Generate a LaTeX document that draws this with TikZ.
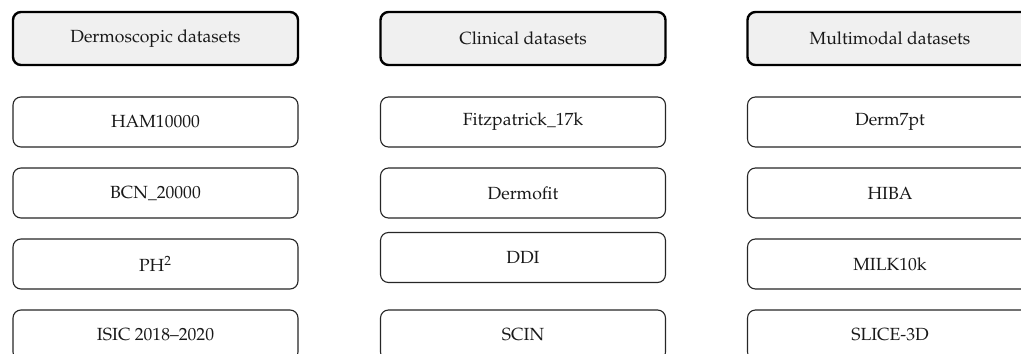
\documentclass[tikz,border=0pt]{standalone}
\usepackage[T1]{fontenc}
\usepackage{mathpazo}
\begin{document}
\begin{tikzpicture}[x=0.5pt,y=-0.5pt,
  every node/.style={font=\fontsize{8.8}{10}\selectfont, text=black!90, inner sep=0pt},
  catbox/.style={draw=black, line width=1.2pt, fill=black!6, rounded corners=4pt,
    minimum width=142.5pt, minimum height=26.5pt},
  itembox/.style={draw=black!85, line width=0.55pt, fill=white, rounded corners=4pt,
    minimum width=142.5pt, minimum height=25pt}]
  \clip (0,0) rectangle (1021,353);
  \useasboundingbox (0,0) rectangle (1021,353);

  % category headers
  \node[catbox] (h1) at (155.5,38.5) {Dermoscopic datasets};
  \node[catbox] (h2) at (523,38.5) {Clinical datasets};
  \node[catbox] (h3) at (890,38.5) {Multimodal datasets};

  % dermoscopic
  \node[itembox] (d1) at (155.5,122) {HAM10000};
  \node[itembox] (d2) at (155.5,193) {BCN\_20000};
  \node[itembox] (d3) at (155.5,264) {PH\textsuperscript{2}};
  \node[itembox] (d4) at (155.5,335) {ISIC 2018--2020};

  % clinical
  \node[itembox] (c1) at (523,122) {Fitzpatrick\_17k};
  \node[itembox] (c2) at (523,193) {Dermofit};
  \node[itembox] (c3) at (523,257.5) {DDI};
  \node[itembox] (c4) at (523,335) {SCIN};

  % multimodal
  \node[itembox] (m1) at (890,122) {Derm7pt};
  \node[itembox] (m2) at (890,193) {HIBA};
  \node[itembox] (m3) at (890,264) {MILK10k};
  \node[itembox] (m4) at (890,335) {SLICE-3D};
\end{tikzpicture}
\end{document}
